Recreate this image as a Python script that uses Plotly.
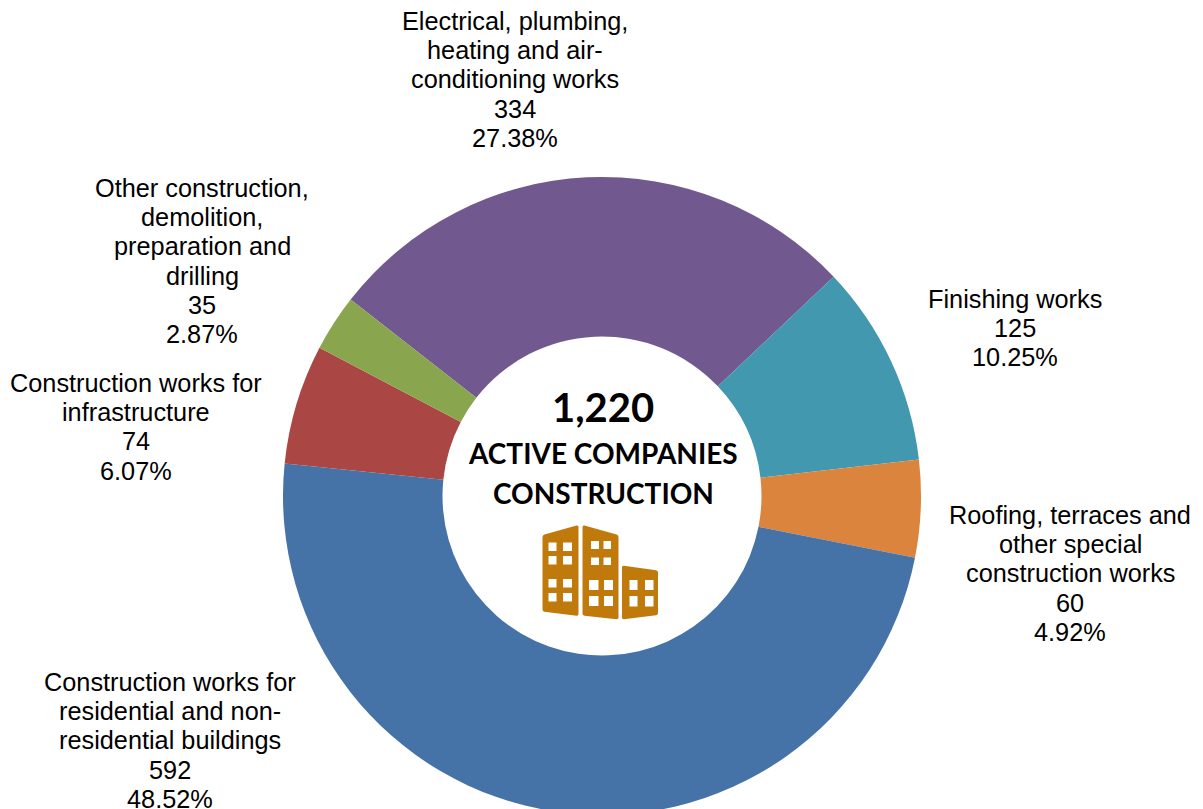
import plotly.graph_objects as go

categories = ["Electrical, plumbing,<br>heating and air-<br>conditioning works",
              "Finishing works",
              "Roofing, terraces and<br>other special<br>construction works",
              "Construction works for<br>residential and non-<br>residential buildings",
              "Construction works for<br>infrastructure",
              "Other construction,<br>demolition,<br>preparation and<br>drilling"]
values = [334, 125, 60, 592, 74, 35]
shares = ["27.38%", "10.25%", "4.92%", "48.52%", "6.07%", "2.87%"]
colors = ["#71588F", "#4198AF", "#DB843D", "#4572A7", "#AA4643", "#89A54E"]
total_label = "1,220"
center_lines = ["ACTIVE COMPANIES", "CONSTRUCTION"]
# label anchor pixel positions (centre x, centre y of first line)
label_pos = [(515, 21), (1015, 299), (1070, 515), (170, 682), (135.5, 383), (202, 188)]
LINE_STEP = 29.2

W, H = 1203, 816
CX, CY, R = 602, 496, 319
ICON = "#C07A0C"

def px(x): return x / W
def py(y): return 1 - y / H

def poly(points, color, r=2.0):
    n = len(points)
    parts = []
    for i in range(n):
        x, y = points[i]
        xa, ya = points[i - 1]
        xb, yb = points[(i + 1) % n]
        da = ((xa - x) ** 2 + (ya - y) ** 2) ** 0.5
        db = ((xb - x) ** 2 + (yb - y) ** 2) ** 0.5
        sx, sy = x + (xa - x) * r / da, y + (ya - y) * r / da
        ex, ey = x + (xb - x) * r / db, y + (yb - y) * r / db
        parts.append(("M" if i == 0 else "L") + f" {px(sx):.5f},{py(sy):.5f} Q {px(x):.5f},{py(y):.5f} {px(ex):.5f},{py(ey):.5f}")
    path = " ".join(parts) + " Z"
    return dict(type="path", xref="paper", yref="paper", path=path, fillcolor=color,
                line=dict(width=0), layer="above")

def rect(x0, y0, x1, y1):
    return dict(type="rect", xref="paper", yref="paper", x0=px(x0), x1=px(x1), y0=py(y0), y1=py(y1),
                fillcolor="white", line=dict(width=0), layer="above")

fig = go.Figure(go.Pie(
    values=values, labels=[c.replace("<br>", " ") for c in categories],
    sort=False, direction="clockwise", rotation=-52, hole=0.5,
    marker=dict(colors=colors, line=dict(width=0)),
    textinfo="none", showlegend=False, hoverinfo="label+value+percent",
    domain=dict(x=[px(CX - R), px(CX + R)], y=[py(CY + R), py(CY - R)]),
))

for cat, val, share, (x, y) in zip(categories, values, shares, label_pos):
    lines = cat.split("<br>") + [str(val), share]
    for i, line in enumerate(lines):
        fig.add_annotation(xref="paper", yref="paper", x=px(x), y=py(y + i * LINE_STEP),
                           xanchor="center", yanchor="middle", text=line, showarrow=False,
                           font=dict(family="Liberation Sans, Arial", size=25.3, color="#000000"))

fig.add_annotation(xref="paper", yref="paper", x=px(603), y=py(407), xanchor="center", yanchor="middle",
                   text=f"<b>{total_label}</b>", showarrow=False,
                   font=dict(family="Lato, Carlito", size=40, color="#000"))
for line, y in zip(center_lines, [453, 493]):
    fig.add_annotation(xref="paper", yref="paper", x=px(603), y=py(y), xanchor="center", yanchor="middle",
                       text=f"<b>{line}</b>", showarrow=False,
                       font=dict(family="Lato, Carlito", size=28, color="#000"))

shapes = [
    poly([(542.5, 535), (578.5, 525), (578.5, 616), (542.5, 611.5)], ICON),
    poly([(582.5, 525), (618.5, 535), (618.5, 619.5), (582.5, 615.5)], ICON),
    poly([(622, 565.5), (658, 570.5), (658, 615), (622, 619.5)], ICON),
]
for x0, x1 in [(548.5, 556.5), (563, 572)]:
    for y0, y1 in [(542.5, 551), (556, 564.5), (579, 587.5), (593, 601.5)]:
        shapes.append(rect(x0, y0, x1, y1))
for x0, x1 in [(591, 599), (603.5, 611)]:
    for y0, y1 in [(541, 549), (557.5, 565)]:
        shapes.append(rect(x0, y0, x1, y1))
for x0, x1 in [(589, 598.5), (604, 613)]:
    for y0, y1 in [(580, 590), (596, 606)]:
        shapes.append(rect(x0, y0, x1, y1))
for x0, x1 in [(629.5, 637.5), (645, 653.5)]:
    for y0, y1 in [(580, 590), (596, 606.5)]:
        shapes.append(rect(x0, y0, x1, y1))

fig.update_layout(width=W, height=H, margin=dict(l=0, r=0, t=0, b=0),
                  paper_bgcolor="white", plot_bgcolor="white", shapes=shapes)

fig.write_html("out.html", config=dict(displayModeBar=False),
               post_script="document.body.style.margin='0';document.documentElement.style.overflow='hidden';document.body.style.overflow='hidden';")
